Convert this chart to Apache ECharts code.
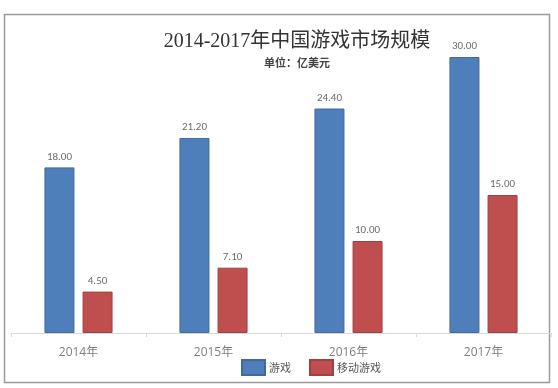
<!DOCTYPE html>
<html><head><meta charset="utf-8">
<script src="https://cdn.jsdelivr.net/npm/echarts@6/dist/echarts.min.js"></script>
<style>html,body{margin:0;padding:0;background:#fff}#c{width:558px;height:388px}</style>
</head><body><div id="c"></div>
<script>
const categories = ['2014年','2015年','2016年','2017年'];
const games = [18.00, 21.20, 24.40, 30.00];
const mobileGames = [4.50, 7.10, 10.00, 15.00];
const seriesNames = ['游戏','移动游戏'];

const chart = echarts.init(document.getElementById('c'));
const labelCfg = {show:true, position:'top', distance:5, color:'#6b6b6b', fontSize:11,
  fontFamily:'Calibri, Carlito, "Open Sans", sans-serif', formatter:p=>p.value.toFixed(2)};
chart.setOption({
  animation:false,
  backgroundColor:'#fff',
  graphic:[{type:'rect', shape:{x:4.5,y:14.5,width:545,height:368}, style:{fill:'none', stroke:'#9a9a9a', lineWidth:1.5}}],
  title:[
    {text:'2014-2017年中国游戏市场规模', left:292, top:27, textAlign:'center',
     textStyle:{fontSize:20, fontWeight:'normal', color:'#333', fontFamily:'"Liberation Serif","DejaVu Serif","Noto Sans CJK SC",serif'}},
    {text:'单位：亿美元', left:292, top:52, textAlign:'center',
     textStyle:{fontSize:11, fontWeight:'bold', color:'#444', fontFamily:'"Noto Sans CJK SC",sans-serif'}}
  ],
  legend:{bottom:7, left:236, itemWidth:23, itemHeight:15, itemGap:18,
    textStyle:{fontSize:11, color:'#555', padding:[0,0,0,-1], fontFamily:'"Noto Sans CJK SC",sans-serif'},
    icon:'rect', data:seriesNames},
  grid:{left:11, right:7, top:57, bottom:55},
  xAxis:{type:'category', data:categories,
    axisLine:{lineStyle:{color:'#d9d9d9'}}, axisTick:{show:true, length:4, lineStyle:{color:'#d9d9d9'}},
    axisLabel:{color:'#7f7f7f', fontSize:12, margin:14, fontFamily:'"Open Sans","Noto Sans CJK SC",sans-serif'}},
  yAxis:{type:'value', min:0, max:30, show:false, splitLine:{show:false}},
  series:[
    {name:seriesNames[0], type:'bar', data:games, barWidth:30, barGap:'27%',
     itemStyle:{color:'#4F7FBB', borderColor:'#41699c', borderWidth:1}, label:labelCfg},
    {name:seriesNames[1], type:'bar', data:mobileGames, barWidth:30,
     itemStyle:{color:'#BE4F4E', borderColor:'#a04140', borderWidth:1}, label:labelCfg}
  ]
});
</script></body></html>
